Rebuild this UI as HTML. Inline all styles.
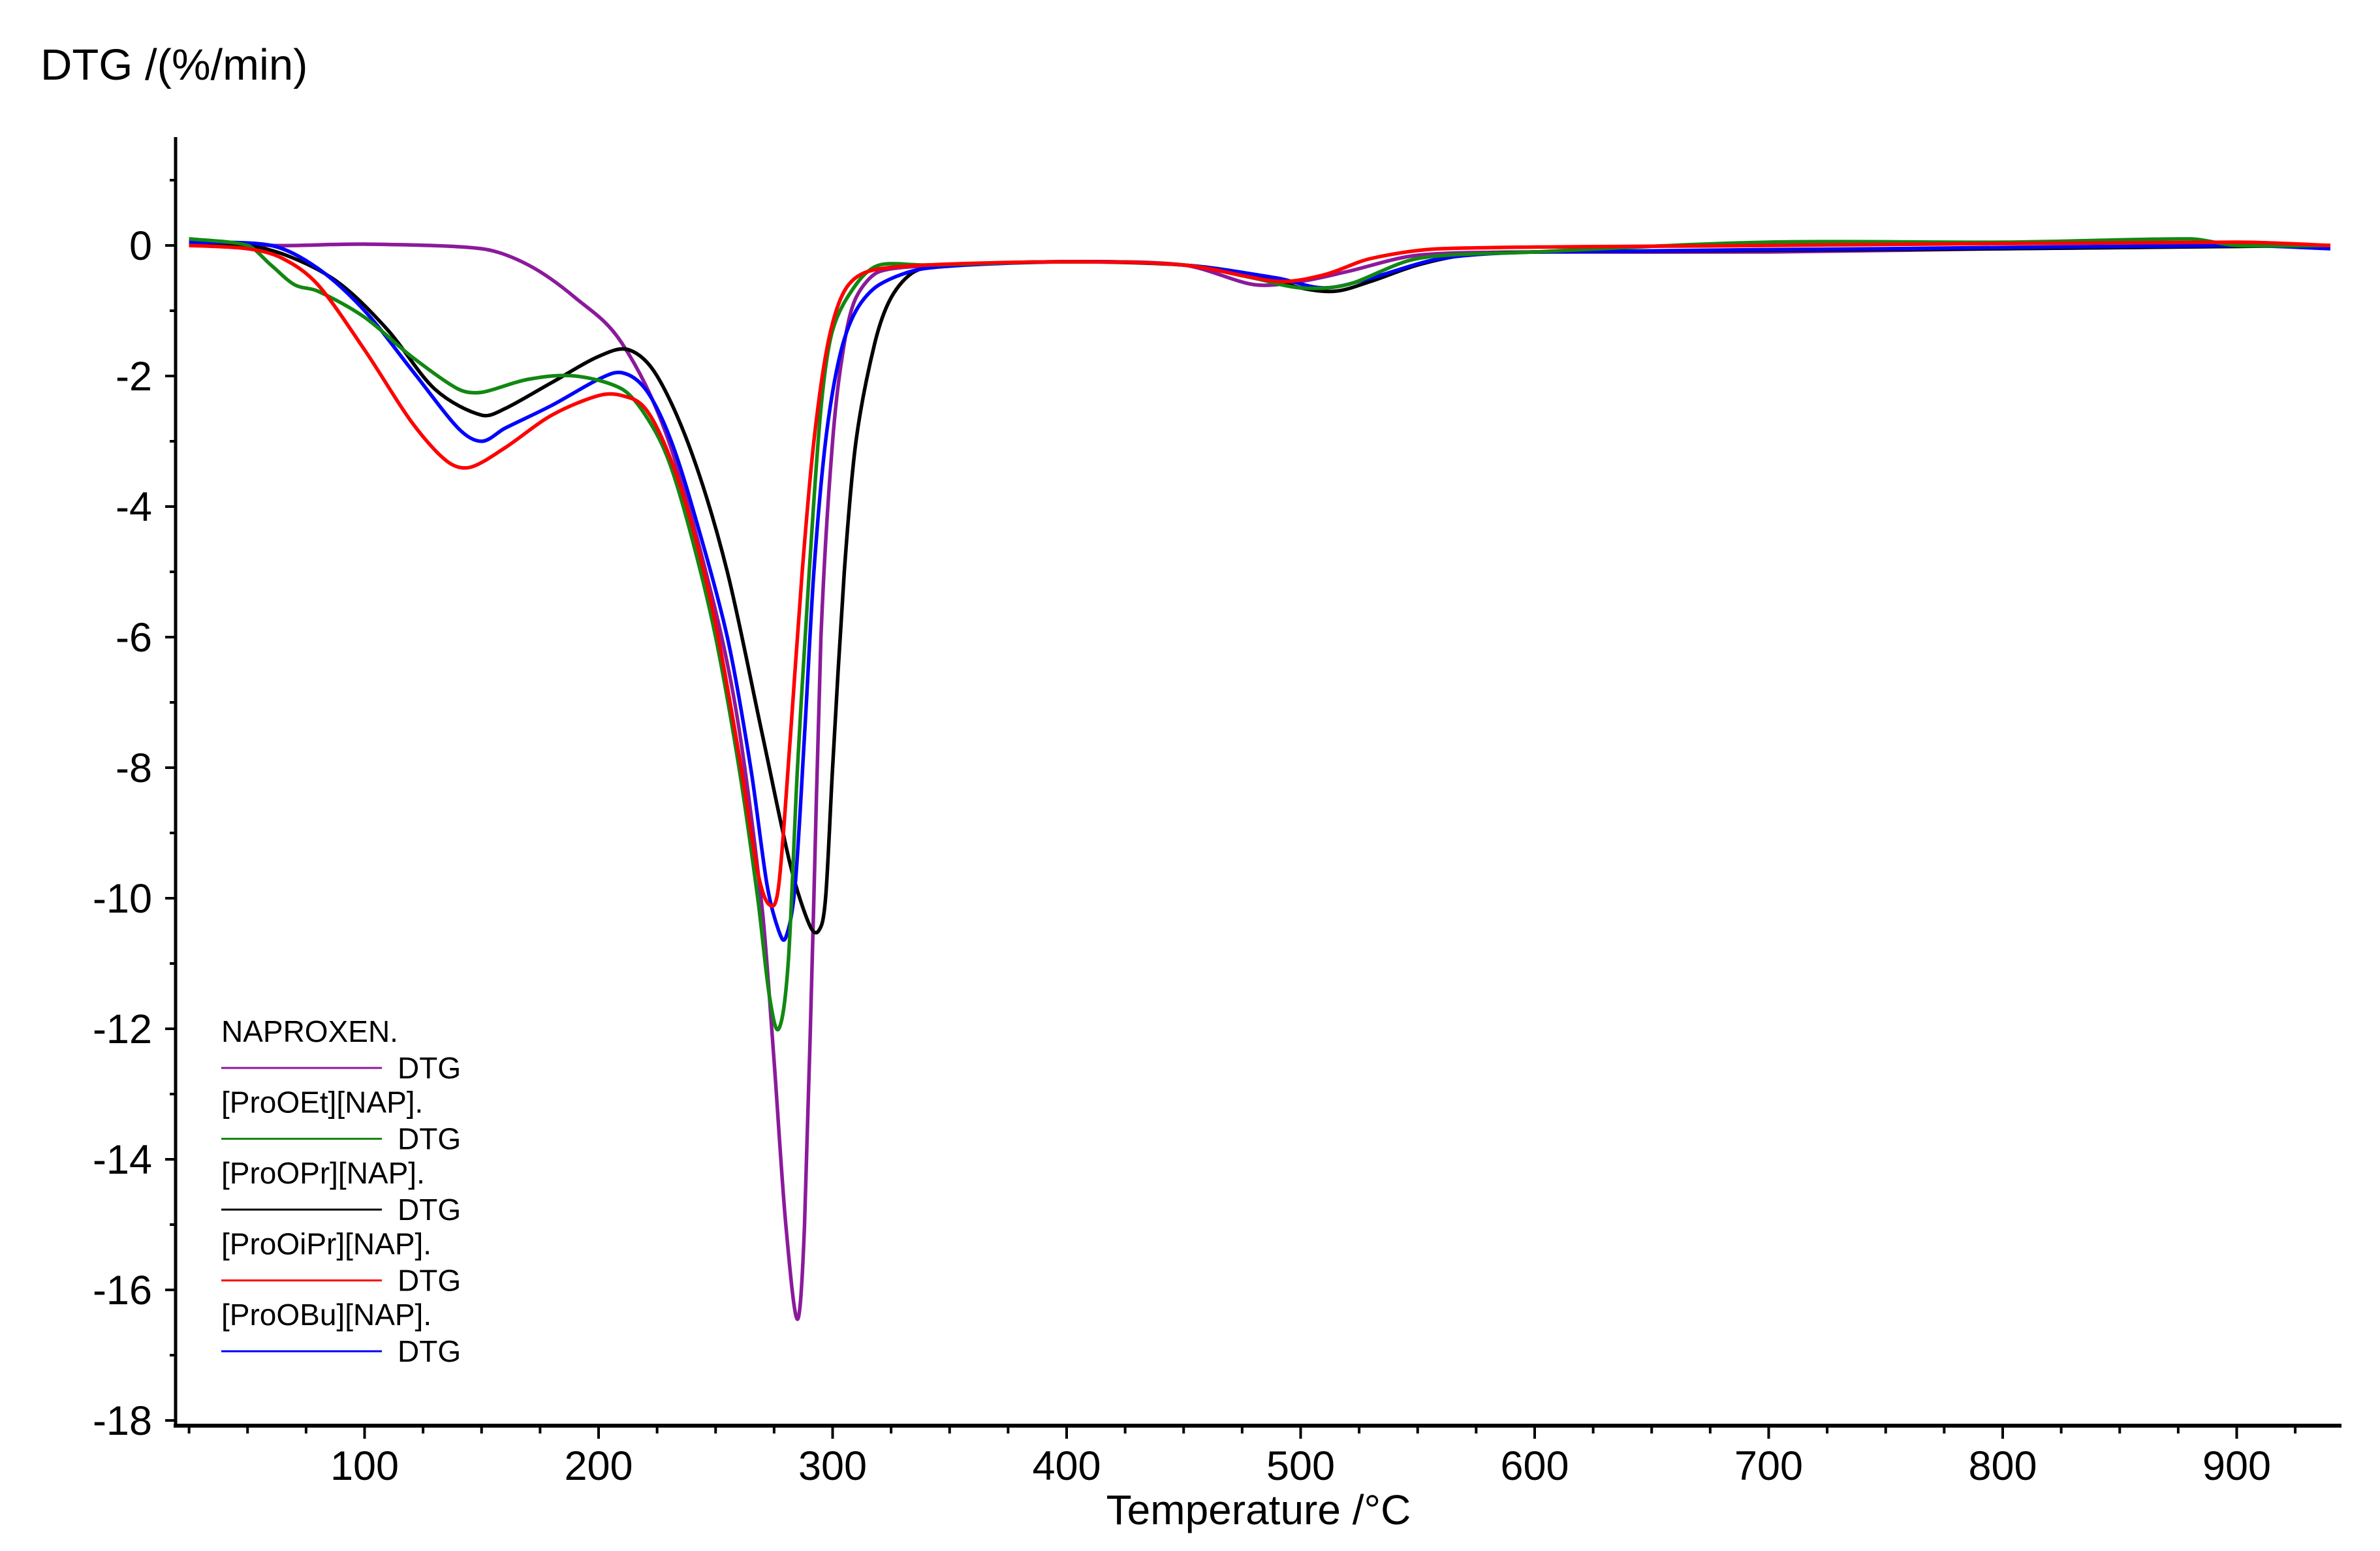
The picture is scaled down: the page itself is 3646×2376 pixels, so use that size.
<!DOCTYPE html>
<html><head><meta charset="utf-8"><style>
html,body{margin:0;padding:0;background:#fff;}
svg{display:block;font-family:"Liberation Sans",Arial,sans-serif;}
</style></head><body>
<svg id="chart" width="3646" height="2376" viewBox="0 0 3646 2376" xmlns="http://www.w3.org/2000/svg">
<rect width="3646" height="2376" fill="#fff"/>
<text x="62" y="122" font-size="67" fill="#000">DTG /(%/min)</text>
<text x="1928" y="2335" font-size="64" fill="#000" text-anchor="middle">Temperature /°C</text>
<g id="axes"></g>
<g id="series"></g>
<g id="legend"></g>
</svg>
<script>
const xTicks=[100,200,300,400,500,600,700,800,900];
const yTicks=[0,-2,-4,-6,-8,-10,-12,-14,-16,-18];
const seriesNames=["NAPROXEN.","[ProOEt][NAP].","[ProOPr][NAP].","[ProOiPr][NAP].","[ProOBu][NAP]."];
const seriesColors=["#8b1a9b","#118811","#000000","#ff0000","#0000ff"];
const naproxenT=[25,60,100,150,170,190,210,230,250,260,270,275,280,285,288,292,295,300,305,310,320,350,400,450,480,500,520,550,600,700,800,940];
const naproxenV=[0.1,0,0.02,-0.05,-0.3,-0.8,-1.5,-3,-5.6,-7.4,-10.2,-12.5,-15,-16.45,-15,-10,-6,-3,-1.5,-0.8,-0.4,-0.3,-0.25,-0.3,-0.6,-0.55,-0.4,-0.15,-0.1,-0.1,-0.05,0];
const proOEtT=[25,50,60,70,80,100,120,140,150,170,190,210,220,230,240,250,260,268,273,277,281,285,290,295,300,310,320,340,400,450,480,500,520,550,600,700,800,880,900,940];
const proOEtV=[0.1,0,-0.3,-0.6,-0.7,-1.1,-1.7,-2.2,-2.25,-2.05,-2.0,-2.2,-2.6,-3.3,-4.5,-6,-8,-10,-11.5,-12,-11,-8,-5,-2.5,-1.3,-0.6,-0.3,-0.3,-0.25,-0.3,-0.5,-0.65,-0.6,-0.2,-0.1,0.05,0.05,0.1,0,0];
const proOPrT=[25,50,70,90,110,130,150,160,180,200,213,225,240,255,270,282,290,294,297,300,305,310,318,325,335,350,400,450,480,500,515,530,550,570,600,800,940];
const proOPrV=[0,0,-0.2,-0.6,-1.3,-2.2,-2.6,-2.5,-2.1,-1.7,-1.6,-2.0,-3.2,-5,-7.5,-9.5,-10.4,-10.5,-10,-8,-5,-3,-1.5,-0.8,-0.4,-0.3,-0.25,-0.3,-0.45,-0.65,-0.7,-0.55,-0.3,-0.15,-0.1,-0.05,0];
const proOiPrT=[25,50,65,80,100,120,135,145,160,180,200,210,220,230,240,250,260,268,273,277,282,287,292,298,305,315,340,400,450,490,510,530,560,700,900,940];
const proOiPrV=[0,-0.05,-0.2,-0.6,-1.6,-2.7,-3.3,-3.4,-3.1,-2.6,-2.3,-2.3,-2.5,-3.2,-4.3,-5.8,-7.8,-9.6,-10.1,-9.8,-7.5,-5,-3,-1.5,-0.7,-0.4,-0.3,-0.25,-0.3,-0.55,-0.45,-0.2,-0.05,0,0.05,0];
const proOBuT=[25,60,80,100,120,140,150,160,180,200,210,220,230,240,255,265,272,277,280,284,288,292,297,303,310,320,340,400,450,490,510,530,560,600,750,900,940];
const proOBuV=[0.05,0,-0.35,-1.0,-1.9,-2.8,-3.0,-2.8,-2.45,-2.05,-1.95,-2.2,-2.9,-4,-6,-8,-9.8,-10.5,-10.6,-9.8,-7.5,-5,-3,-1.7,-1.0,-0.6,-0.35,-0.25,-0.3,-0.5,-0.65,-0.5,-0.2,-0.1,-0.05,0,-0.05];
const allT=[naproxenT,proOEtT,proOPrT,proOiPrT,proOBuT];
const allV=[naproxenV,proOEtV,proOPrV,proOiPrV,proOBuV];

const NS="http://www.w3.org/2000/svg";
const X0=200, XS=3.585, Y0=376, YS=100;
const AX_L=269, AX_B=2184, AX_T=210, AX_R=3587;
function sx(t){return X0+t*XS;}
function sy(v){return Y0-v*YS;}
function mk(tag,attrs,parent){const e=document.createElementNS(NS,tag);for(const k in attrs)e.setAttribute(k,attrs[k]);parent.appendChild(e);return e;}
const axes=document.getElementById('axes');
let e=mk('line',{x1:AX_L,y1:AX_T,x2:AX_L,y2:AX_B+3,stroke:'#000','stroke-width':5},axes);


e=mk('line',{x1:AX_L-3,y1:AX_B,x2:AX_R,y2:AX_B,stroke:'#000','stroke-width':6},axes);


for(let v=1;v>=-17;v-=2){
  e=mk('line',{x1:AX_L-9,y1:sy(v),x2:AX_L,y2:sy(v),stroke:'#000','stroke-width':4},axes);
  
  
}
yTicks.forEach(v=>{
  e=mk('line',{x1:AX_L-16,y1:sy(v),x2:AX_L,y2:sy(v),stroke:'#000','stroke-width':4},axes);
  
  
  e=mk('text',{x:AX_L-36,y:sy(v)+22,'font-size':63,'text-anchor':'end',fill:'#000'},axes);
  e.textContent=String(v);
  
  
});
for(let t=25;t<=925;t+=25){
  if(t%100===0)continue;
  e=mk('line',{x1:sx(t),y1:AX_B,x2:sx(t),y2:AX_B+12,stroke:'#000','stroke-width':4},axes);
  
  
}
xTicks.forEach(t=>{
  e=mk('line',{x1:sx(t),y1:AX_B,x2:sx(t),y2:AX_B+20,stroke:'#000','stroke-width':4},axes);
  
  
  e=mk('text',{x:sx(t),y:AX_B+83,'font-size':63,'text-anchor':'middle',fill:'#000'},axes);
  e.textContent=String(t);
  
  
});
function smoothPath(T,V){
  const p=T.map((t,i)=>[sx(t),sy(V[i])]);
  let d='M'+p[0][0].toFixed(1)+','+p[0][1].toFixed(1);
  for(let i=0;i<p.length-1;i++){
    const p0=p[i-1]||p[i],p1=p[i],p2=p[i+1],p3=p[i+2]||p[i+1];
    const seg=p2[0]-p1[0];
    let c1=[p1[0]+(p2[0]-p0[0])/6,p1[1]+(p2[1]-p0[1])/6];
    let c2=[p2[0]-(p3[0]-p1[0])/6,p2[1]-(p3[1]-p1[1])/6];
    // limit tangent length so the curve never doubles back in x
    const k1=(c1[0]-p1[0])>seg/3?(seg/3)/(c1[0]-p1[0]):1;
    c1=[p1[0]+(c1[0]-p1[0])*k1,p1[1]+(c1[1]-p1[1])*k1];
    const k2=(p2[0]-c2[0])>seg/3?(seg/3)/(p2[0]-c2[0]):1;
    c2=[p2[0]-(p2[0]-c2[0])*k2,p2[1]-(p2[1]-c2[1])*k2];
    d+='C'+c1[0].toFixed(1)+','+c1[1].toFixed(1)+' '+c2[0].toFixed(1)+','+c2[1].toFixed(1)+' '+p2[0].toFixed(1)+','+p2[1].toFixed(1);
  }
  return d;
}
const sg=document.getElementById('series');
const order=[0,2,4,1,3];
const sNames=['series-naproxen','series-prooet','series-proopr','series-prooipr','series-proobu'];
order.forEach(i=>{
  const path=mk('path',{d:smoothPath(allT[i],allV[i]),fill:'none',stroke:seriesColors[i],'stroke-width':5.5,'stroke-linejoin':'round'},sg);
  
  
});
const lg=document.getElementById('legend');


seriesNames.forEach((n,i)=>{
  const ly=1580+i*108.5;
  let t=mk('text',{x:339,y:ly+16,'font-size':46,fill:'#000'},lg);
  t.textContent=n;
  
  
  let l=mk('line',{x1:339,y1:ly+56,x2:585,y2:ly+56,stroke:seriesColors[i],'stroke-width':3},lg);
  
  
  t=mk('text',{x:609,y:ly+72,'font-size':46,fill:'#000'},lg);
  t.textContent='DTG';
  
  
});
</script>
</body></html>
